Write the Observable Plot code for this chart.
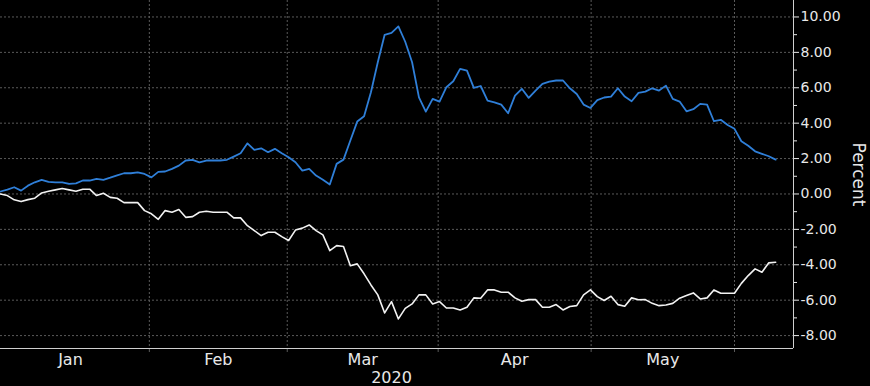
<!DOCTYPE html>
<html><head><meta charset="utf-8">
<script src="https://cdn.jsdelivr.net/npm/d3@7"></script>
<script src="https://cdn.jsdelivr.net/npm/@observablehq/plot@0.6"></script>
<style>
html,body{margin:0;padding:0;background:#000;}
#chart svg{display:block;}
</style></head><body><div id="chart"></div>
<script>
// Daily series (one value per trading day), percent
const blueValues = [0.14,0.25,0.38,0.19,0.47,0.66,0.80,0.68,0.66,0.66,0.57,0.60,0.76,0.76,0.85,0.80,0.92,1.05,1.17,1.17,
  1.22,1.13,0.94,1.25,1.27,1.42,1.60,1.89,1.93,1.79,1.89,1.89,1.89,1.93,2.11,2.30,2.86,2.49,2.58,2.36,
  2.55,2.30,2.07,1.79,1.32,1.42,1.04,0.80,0.53,1.70,1.94,3.02,4.09,4.39,5.75,7.44,8.99,9.10,9.47,8.60,
  7.44,5.46,4.65,5.37,5.22,6.03,6.37,7.07,6.97,5.99,6.10,5.28,5.18,5.05,4.56,5.56,5.94,5.43,5.84,6.22,
  6.35,6.41,6.41,5.97,5.65,5.05,4.86,5.30,5.45,5.50,5.97,5.50,5.24,5.71,5.78,5.97,5.84,6.12,5.37,5.22,
  4.67,4.79,5.09,5.05,4.11,4.19,3.90,3.68,2.98,2.72,2.41,2.27,2.13,1.94];
const whiteValues = [0.00,-0.09,-0.33,-0.43,-0.32,-0.24,0.06,0.15,0.23,0.31,0.23,0.15,0.27,0.27,-0.09,0.04,-0.19,-0.24,-0.49,-0.49,
  -0.49,-0.94,-1.12,-1.43,-0.94,-1.03,-0.88,-1.32,-1.28,-1.03,-0.98,-1.03,-1.03,-1.03,-1.35,-1.35,-1.79,-2.07,-2.35,-2.16,
  -2.16,-2.41,-2.63,-2.04,-1.93,-1.75,-2.07,-2.31,-3.20,-2.92,-2.97,-4.05,-3.95,-4.51,-5.14,-5.70,-6.72,-6.08,-7.06,-6.46,
  -6.21,-5.70,-5.70,-6.21,-6.08,-6.44,-6.44,-6.55,-6.40,-5.87,-5.89,-5.42,-5.42,-5.55,-5.55,-5.87,-6.06,-5.97,-5.97,-6.40,
  -6.40,-6.25,-6.55,-6.36,-6.31,-5.70,-5.42,-5.80,-6.02,-5.78,-6.25,-6.34,-5.87,-5.98,-5.97,-6.18,-6.31,-6.27,-6.18,-5.89,
  -5.74,-5.59,-5.93,-5.87,-5.42,-5.61,-5.61,-5.61,-5.05,-4.61,-4.23,-4.42,-3.89,-3.86];

// x axis: month boundaries expressed in trading-day index
const monthLabels = ["Jan", "Feb", "Mar", "Apr", "May"];
const monthBounds = [-1.3, 21.7, 41.8, 63.8, 86.1, 107.0];
const yearLabel = "2020";
const yearPos = 57;

// y axis
const yTicks = [-8, -6, -4, -2, 0, 2, 4, 6, 8, 10];
const yMinorTicks = [-7, -5, -3, -1, 1, 3, 5, 7, 9];
const yLabel = "Percent";

const xDomain = [0, 115.6];
const yDomain = [-8.73, 10.93];

const blueColor = "#2f7fd8";
const whiteColor = "#f2f2f2";
const gridColor = "#5a5a5a";
const axisColor = "#cfcfcf";
const textColor = "#e8e8e8";

const blueData = blueValues.map((v, i) => ({i, v}));
const whiteData = whiteValues.map((v, i) => ({i, v}));
const labelData = monthLabels.map((m, k) => ({m, x: (monthBounds[k] + monthBounds[k + 1]) / 2}));
const fmt = v => (v < 0 ? "-" : "") + Math.abs(v).toFixed(2);

const chart = Plot.plot({
  width: 870, height: 386,
  marginLeft: 0, marginRight: 77, marginTop: 0, marginBottom: 38,
  style: {background: "#000", color: textColor, fontFamily: "DejaVu Sans, sans-serif", fontSize: "14px", overflow: "visible"},
  x: {domain: xDomain, axis: null},
  y: {domain: yDomain, axis: null},
  marks: [
    Plot.gridY(yTicks, {stroke: gridColor, strokeOpacity: 1, strokeDasharray: "2,2", strokeWidth: 1}),
    Plot.gridX(monthBounds.slice(1), {stroke: gridColor, strokeOpacity: 1, strokeDasharray: "2,2", strokeWidth: 1}),
    Plot.axisX(monthBounds.slice(1), {anchor: "bottom", label: null, tickSize: 4, tickFormat: () => "", stroke: gridColor, color: gridColor}),
    Plot.ruleY([yDomain[0]], {stroke: axisColor, strokeWidth: 1}),
    Plot.ruleX([xDomain[1]], {stroke: axisColor, strokeWidth: 1}),
    Plot.axisY(yTicks, {anchor: "right", label: null, tickSize: 5, tickPadding: 2, tickFormat: fmt, color: textColor, fontSize: 14}),
    Plot.axisY(yMinorTicks, {anchor: "right", label: null, tickSize: 3, tickFormat: () => "", color: textColor}),
    Plot.line(whiteData, {x: "i", y: "v", stroke: whiteColor, strokeWidth: 1.6}),
    Plot.line(blueData, {x: "i", y: "v", stroke: blueColor, strokeWidth: 1.8}),
    Plot.text(labelData, {x: "x", text: "m", frameAnchor: "bottom", lineAnchor: "middle", dy: 11, fontSize: 16, fill: textColor}),
    Plot.text([yearLabel], {x: () => yearPos, text: d => d, frameAnchor: "bottom", lineAnchor: "middle", dy: 29, fontSize: 16, fill: textColor}),
    Plot.text([yLabel], {text: d => d, frameAnchor: "right", textAnchor: "middle", lineAnchor: "middle", dx: 65, rotate: 90, fontSize: 17, fill: textColor})
  ]
});
document.getElementById("chart").appendChild(chart);
</script></body></html>
